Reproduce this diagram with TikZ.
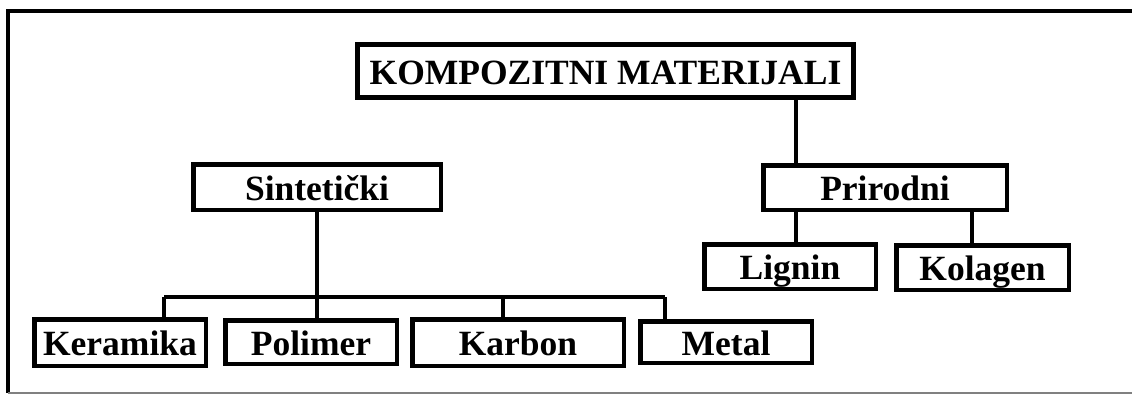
\documentclass[tikz,border=0pt]{standalone}
\usepackage{fontspec}
\setmainfont{Liberation Serif}
\usetikzlibrary{positioning,calc}

\tikzset{
    box/.style={draw, line width=4.5pt, inner sep=0pt, text height=26pt, text depth=0pt,
        font=\fontsize{35.5}{40}\selectfont\bfseries},
    link/.style={line width=4pt},
}

\begin{document}
\begin{tikzpicture}[x=1pt,y=-1pt]
    \useasboundingbox (0,0) rectangle (1132,394);

    % Frame
    \draw[line width=4pt] (1132,11) -- (7.5,11) -- (7.5,393);
    \draw[gray, line width=1.2pt] (7.5,393) -- (1132,393);

    % Top levels
    \node[box, minimum width=496pt, minimum height=53pt] (root) at (605.5,71) {KOMPOZITNI MATERIJALI};
    \node[box, minimum width=247.5pt, minimum height=45.5pt] (sint) at (317,187) {Sintetički};
    \node[box, minimum width=243.5pt, minimum height=44.5pt] (prir) at (885,187.5) {Prirodni};

    % Natural
    \node[box, minimum width=171.5pt, minimum height=44.5pt] (lig) at (790,266.5) {Lignin};
    \node[box, minimum width=172.5pt, minimum height=44.5pt] (kol) at (982.5,267.5) {Kolagen};

    % Synthetic
    \node[box, minimum width=171.5pt, minimum height=46.5pt] (ker) at (120,342.5) {Keramika};
    \node[box, minimum width=171.5pt, minimum height=43.5pt] (pol) at (311,342) {Polimer};
    \node[box, minimum width=211.5pt, minimum height=46.5pt] (karb) at (518,342.5) {Karbon};
    \node[box, minimum width=171.5pt, minimum height=41.5pt] (met) at (726,342) {Metal};

    % Links to natural
    \coordinate (jprir) at (796,0);
    \coordinate (jkol) at (972,0);
    \draw[link] (root.south -| jprir) -- (prir.north -| jprir);
    \draw[link] (prir.south -| jprir) -- (lig.north -| jprir);
    \draw[link] (prir.south -| jkol) -- (kol.north -| jkol);

    % Bus to synthetic
    \foreach \name/\x in {ker/164, karb/503, met/665} {
        \coordinate (j\name) at (\x,297);
        \draw[link] (j\name) -- (j\name |- \name.north);
    }
    \draw[link] (sint.south) -- (sint.south |- pol.north);
    \draw[link] (jker) -- (jmet);

\end{tikzpicture}
\end{document}
